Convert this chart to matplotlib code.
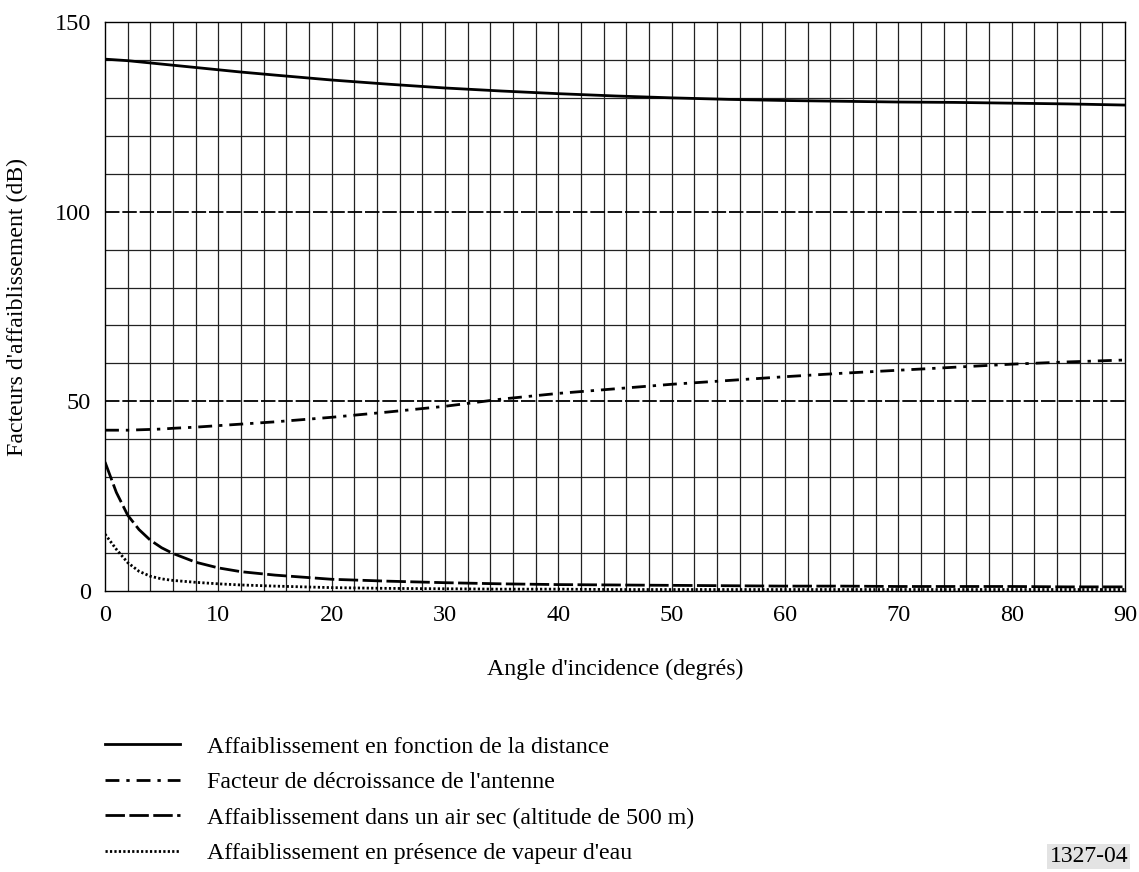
#!/usr/bin/env python3
"""Facteurs d'affaiblissement en fonction de l'angle d'incidence (fig. 1327-04)."""

import matplotlib

matplotlib.use("Agg")
import matplotlib.pyplot as plt
import numpy as np

plt.rcParams["font.family"] = ["Liberation Serif", "DejaVu Serif"]

angles = [0, 1, 2, 3, 4, 5, 6, 8, 10, 12, 15, 20, 25, 30, 35, 40,
          45, 50, 55, 60, 65, 70, 75, 80, 85, 90]
distance_loss = [140.2, 140.0, 139.8, 139.5, 139.2, 138.9, 138.6, 138.0, 137.4,
                 136.8, 136.0, 134.7, 133.6, 132.6, 131.8, 131.1, 130.5, 130.0,
                 129.6, 129.3, 129.1, 128.9, 128.8, 128.6, 128.4, 128.1]
antenna_factor = [42.4, 42.4, 42.4, 42.5, 42.6, 42.7, 42.9, 43.2, 43.6, 44.0,
                  44.6, 45.8, 47.2, 48.7, 50.6, 52.1, 53.3, 54.5, 55.5, 56.5,
                  57.4, 58.2, 59.0, 59.8, 60.4, 60.9]
dry_air_loss = [34.0, 26.0, 20.0, 16.2, 13.4, 11.4, 9.9, 7.6, 6.1, 5.1, 4.2,
                3.1, 2.6, 2.2, 1.9, 1.7, 1.6, 1.5, 1.4, 1.3, 1.3, 1.2, 1.2,
                1.2, 1.1, 1.1]
vapour_loss = [15.0, 11.0, 7.5, 5.2, 3.9, 3.2, 2.8, 2.3, 1.9, 1.6, 1.3, 0.9,
               0.7, 0.6, 0.5, 0.5, 0.4, 0.4, 0.4, 0.4, 0.4, 0.4, 0.4, 0.4,
               0.4, 0.4]

labels = [
    "Affaiblissement en fonction de la distance",
    "Facteur de décroissance de l'antenne",
    "Affaiblissement dans un air sec (altitude de 500 m)",
    "Affaiblissement en présence de vapeur d'eau",
]
x_ticks = [0, 10, 20, 30, 40, 50, 60, 70, 80, 90]
y_ticks = [0, 50, 100, 150]

fig = plt.figure(figsize=(11.39, 8.72), dpi=100)
ax = fig.add_axes([0.0922, 0.3222, 0.8955, 0.6526])

# grid: every 2 degrees, every 10 dB; 50 and 100 dB drawn dashed
grid_color = "#222222"
for gx in np.arange(2, 90, 2):
    ax.axvline(gx, color=grid_color, lw=0.9, zorder=1)
for gy in np.arange(10, 150, 10):
    if gy in (50, 100):
        ax.axhline(gy, color="black", lw=1.3, dashes=(8, 1.6), zorder=1)
    else:
        ax.axhline(gy, color=grid_color, lw=0.9, zorder=1)

ax.plot(angles, distance_loss, color="black", lw=2.0, label=labels[0], zorder=3)
ax.plot(angles, antenna_factor, color="black", lw=2.0, dashes=(5, 2.5, 1.2, 2.5),
        label=labels[1], zorder=3)
ax.plot(angles, dry_air_loss, color="black", lw=2.0, dashes=(7, 1.6),
        label=labels[2], zorder=3)
ax.plot(angles, vapour_loss, color="black", lw=2.0, dashes=(0.8, 0.8),
        label=labels[3], zorder=3)

ax.set_xlim(0, 90)
ax.set_ylim(0, 150)
ax.set_xticks(x_ticks)
ax.set_yticks(y_ticks)
ax.tick_params(length=0, labelsize=17.5, pad=10)
for spine in ax.spines.values():
    spine.set_linewidth(1.0)
ax.set_xlabel("Angle d'incidence (degrés)", fontsize=17.2, labelpad=24)
ax.set_ylabel("Facteurs d'affaiblissement (dB)", fontsize=17.2, labelpad=19)

fig.legend(loc="upper left", bbox_to_anchor=(0.0922, 0.156), frameon=False,
           fontsize=17.2, handlelength=3.14, handletextpad=1.13, labelspacing=0.58,
           borderpad=0, borderaxespad=0)

fig.text(0.9905, 0.006, "1327-04", fontsize=17, ha="right", va="bottom",
         bbox=dict(facecolor="#e3e3e3", edgecolor="none", pad=1.5))

fig.savefig("out.png", dpi=100)
